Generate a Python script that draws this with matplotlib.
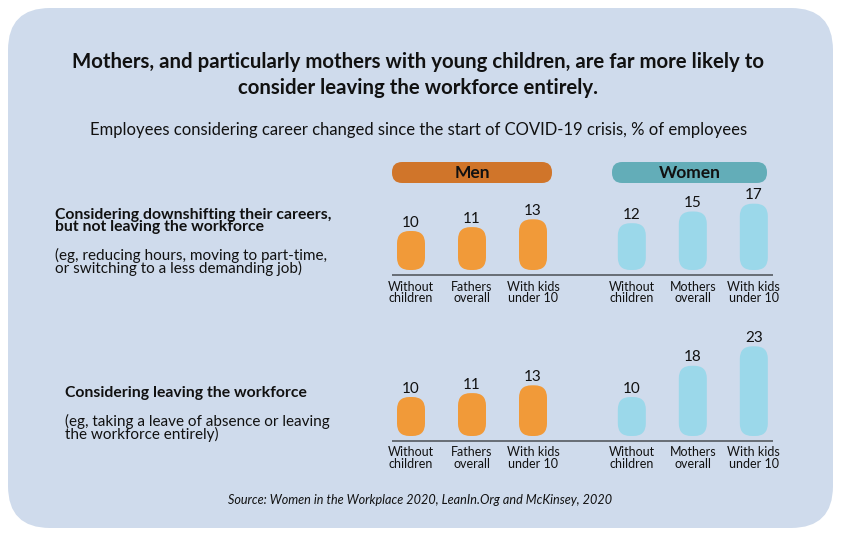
import matplotlib
matplotlib.use("Agg")
import matplotlib.pyplot as plt
from matplotlib.patches import FancyBboxPatch

W, H = 841, 534
plt.rcParams['font.family'] = ['Lato', 'DejaVu Sans']

title = "Mothers, and particularly mothers with young children, are far more likely to\nconsider leaving the workforce entirely."
subtitle = "Employees considering career changed since the start of COVID-19 crisis, % of employees"
source = "Source: Women in the Workplace 2020, LeanIn.Org and McKinsey, 2020"
groups = ["Men", "Women"]
categories = ["Without\nchildren", "Fathers\noverall", "With kids\nunder 10",
              "Without\nchildren", "Mothers\noverall", "With kids\nunder 10"]
downshift = [10, 11, 13, 12, 15, 17]
leaving = [10, 11, 13, 10, 18, 23]
row_titles = ["Considering downshifting their careers,\nbut not leaving the workforce",
              "Considering leaving the workforce"]
row_notes = ["(eg, reducing hours, moving to part-time,\nor switching to a less demanding job)",
             "(eg, taking a leave of absence or leaving\nthe workforce entirely)"]

BG = "#cfdbec"
MEN_BAR = "#f19a39"
WOMEN_BAR = "#9bd8ea"
MEN_HEAD = "#d0752a"
WOMEN_HEAD = "#63adb8"
TXT = "#111111"

fig = plt.figure(figsize=(W / 100, H / 100), dpi=100)
fig.patch.set_facecolor("white")

def fx(px):
    return px / W

def fy(py):
    return 1 - py / H

# background panel
bg = FancyBboxPatch((fx(8), fy(528)), fx(825), (520) / H,
                    boxstyle="round,pad=0,rounding_size=0.05",
                    mutation_aspect=W / H,
                    transform=fig.transFigure, facecolor=BG, edgecolor="none",
                    zorder=-10)
fig.patches.append(bg)

fig.text(fx(418), fy(75), title, ha="center", va="center", fontsize=14.7,
         fontweight="bold", color=TXT, linespacing=1.4)
fig.text(fx(419), fy(130), subtitle, ha="center", va="center", fontsize=12.0, color=TXT)
fig.text(fx(420), fy(500), source, ha="center", va="center", fontsize=9.1,
         style="italic", color=TXT)

# group headers
for (x0, x1), lab, col in zip([(392, 552), (612, 767)], groups, [MEN_HEAD, WOMEN_HEAD]):
    p = FancyBboxPatch((fx(x0), fy(183)), fx(x1 - x0), 21 / H,
                       boxstyle="round,pad=0,rounding_size=0.012",
                       mutation_aspect=W / H,
                       transform=fig.transFigure, facecolor=col, edgecolor="none",
                       zorder=-5)
    fig.patches.append(p)
    fig.text(fx((x0 + x1) / 2), fy(173), lab, ha="center", va="center",
             fontsize=12.5, fontweight="bold", color=TXT)

xpos = [0, 1, 2, 3.62, 4.62, 5.62]
colors = [MEN_BAR] * 3 + [WOMEN_BAR] * 3
PX_PER_UNIT = 3.9
STEP = 61.0
BARW = 28 / STEP

def panel(values, bar_bottom_px, line_px, label_top_px):
    ax_h = 110
    left = 411 - 0.5 * STEP
    width = 6.62 * STEP
    ax = fig.add_axes([fx(left), fy(bar_bottom_px), fx(width), ax_h / H])
    ax.set_xlim(-0.5, 6.12)
    ax.set_ylim(0, ax_h / PX_PER_UNIT)
    ax.axis("off")
    for x, v, c in zip(xpos, values, colors):
        p = FancyBboxPatch((x - BARW / 2, 0), BARW, v,
                           boxstyle="round,pad=0,rounding_size=%f" % (12.5 / STEP),
                           mutation_aspect=STEP / PX_PER_UNIT,
                           facecolor=c, edgecolor="none")
        ax.add_patch(p)
        ax.text(x, v + 0.35, str(v), ha="center", va="bottom", fontsize=11,
                color=TXT)
    line_y = -(line_px - bar_bottom_px) / PX_PER_UNIT
    ax.plot([-0.31, 5.93], [line_y, line_y], color="#555a60", lw=1.2,
            clip_on=False, solid_capstyle="butt")
    for x, lab in zip(xpos, categories):
        ax.text(x, -(label_top_px - bar_bottom_px) / PX_PER_UNIT, lab,
                ha="center", va="top", fontsize=9.0, color=TXT,
                linespacing=0.95, clip_on=False)
    return ax

panel(downshift, 270, 275, 281)
panel(leaving, 436, 441, 446)

# row labels
fig.text(fx(55), fy(221), row_titles[0], ha="left", va="center", fontsize=11.3,
         fontweight="bold", color=TXT, linespacing=0.9)
fig.text(fx(55), fy(262), row_notes[0], ha="left", va="center", fontsize=11,
         color=TXT, linespacing=0.9)
fig.text(fx(65), fy(393), row_titles[1], ha="left", va="center", fontsize=11.3,
         fontweight="bold", color=TXT)
fig.text(fx(65), fy(428), row_notes[1], ha="left", va="center", fontsize=11,
         color=TXT, linespacing=0.9)

fig.savefig("out.png", dpi=100, facecolor="white")
